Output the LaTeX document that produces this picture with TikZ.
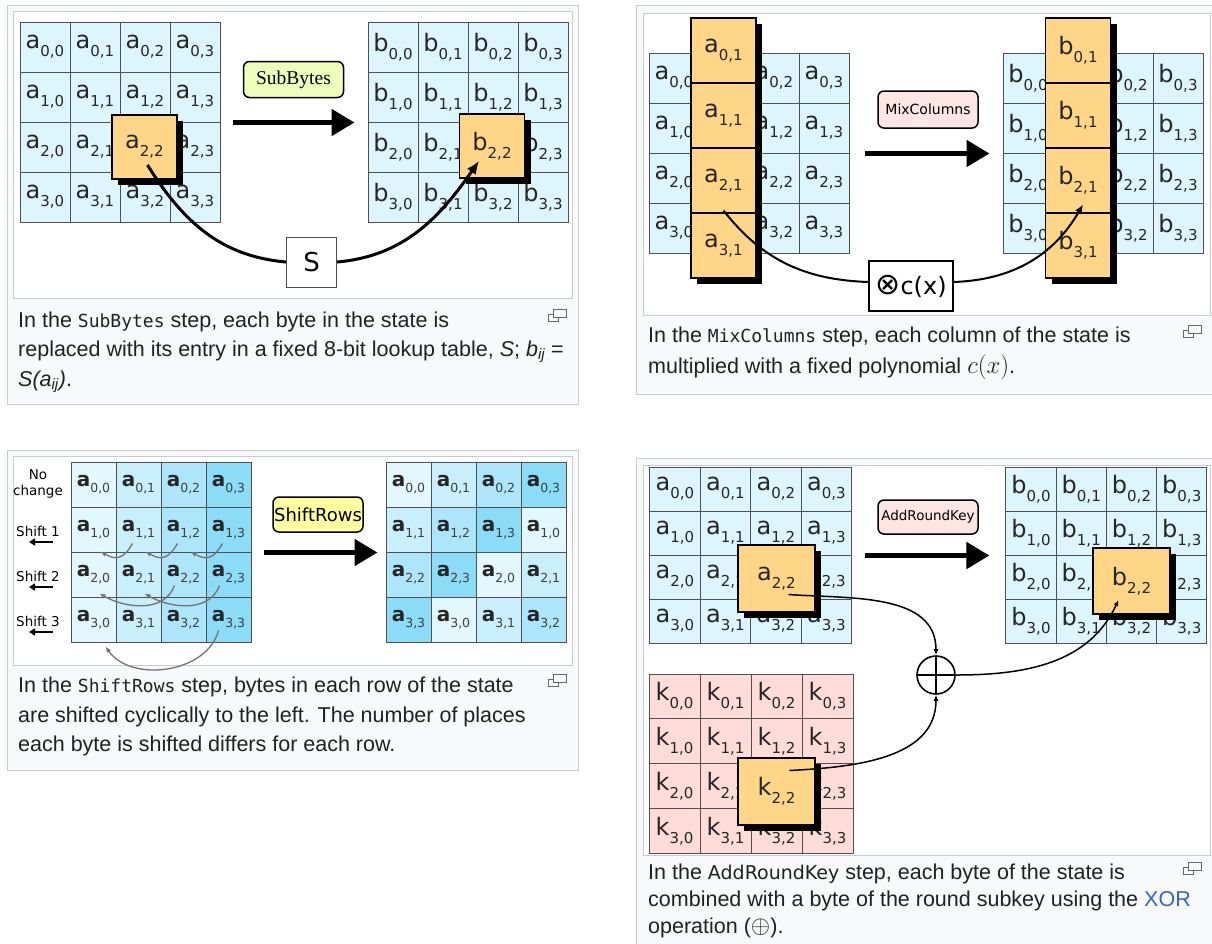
\documentclass[tikz,border=0pt]{standalone}
\usepackage{fontspec}
\setmainfont{Liberation Sans}
\newfontfamily\cellfont{DejaVu Sans}
\newfontfamily\codefont{DejaVu Sans Mono}
\newfontfamily\serifboxfont{Liberation Serif}
\usetikzlibrary{arrows.meta,shadows}

\definecolor{cellblue}{HTML}{DDF5FD}
\definecolor{bytegold}{HTML}{FFD587}
\definecolor{keypink}{HTML}{FFDCD8}
\definecolor{framegray}{HTML}{C8CCD1}
\definecolor{capbg}{HTML}{F8F9FA}
\definecolor{captext}{HTML}{202122}
\definecolor{gridline}{HTML}{505050}
\definecolor{subgray}{HTML}{404040}
\definecolor{linkblue}{HTML}{3366CC}
\definecolor{shift0}{HTML}{E3F7FE}
\definecolor{shift1}{HTML}{C9EFFC}
\definecolor{shift2}{HTML}{ADE6FA}
\definecolor{shift3}{HTML}{8BDCF7}
\definecolor{subgreen}{HTML}{EEFFBB}
\definecolor{shiftyellow}{HTML}{FFFF9E}
\definecolor{mixpink}{HTML}{FFE6E4}

%% byte labels: letter with a low subscript
\newcommand{\byte}[2]{#1\raisebox{-8pt}{\fontsize{15}{15}\selectfont #2}}
\newcommand{\sbyte}[2]{\textbf{#1}\raisebox{-6pt}{\fontsize{12.5}{12.5}\selectfont\color{subgray}#2}}

\begin{document}
\begin{tikzpicture}
[x=1pt,y=-1pt,
  cellDecorate/.style={draw=gridline,line width=1pt,inner sep=0pt,
    minimum width=50pt,minimum height=50pt,text=black!85,
    font=\cellfont\fontsize{24}{24}\selectfont},
  smallCell/.style={cellDecorate,minimum width=45pt,minimum height=45pt,
    font=\cellfont\fontsize{20}{20}\selectfont},
  byteDecorate/.style={cellDecorate,draw=black,line width=1.5pt,fill=bytegold,
    general shadow={fill=black,shadow xshift=6pt,shadow yshift=-6pt}},
  stepDecorate/.style={draw=black,line width=1.5pt,rounded corners=6pt,inner sep=0pt},
  stepArrow/.style={line width=5pt,-{Triangle[length=23pt,width=26pt]}},
  capText/.style={anchor=base west,inner sep=0pt,text=captext,
    font=\fontsize{21.5}{26}\selectfont},
  rowLabel/.style={inner sep=0pt,font=\cellfont\fontsize{13.5}{16}\selectfont},
  grayArc/.style={draw=black!55,line width=1.3pt,-{Latex[length=6pt,width=5pt]}},
  xorCurve/.style={line width=1.5pt,-{Latex[length=6pt,width=5pt]}}]

\fill[white] (0,0) rectangle (1212,943);
\useasboundingbox (0,0) rectangle (1212,943);

%% frames of the four thumbnails
\foreach \px/\py/\qx/\qy/\ix/\iy/\jx/\jy in {
  7/5/578/404/13/11/572/298,
  636/5/1213/394/643/13/1210/315,
  7/450/578/770/13/456/572/665,
  636/458/1213/946/643/465/1210/855}
{
  \draw[framegray,fill=capbg] (\px,\py) rectangle (\qx,\qy);
  \draw[framegray,fill=white] (\ix,\iy) rectangle (\jx,\jy);
}
%% enlarge icons
\foreach \ix/\iy in {548/309, 1183/325, 548/674, 1183/862}
{
  \draw[black!60,line width=1pt] (\ix,\iy+5) rectangle +(10,7);
  \draw[black!60,line width=1pt,fill=capbg] (\ix+5,\iy) rectangle +(13,8);
}

%% ---------- SubBytes ----------
\foreach \i in {0,...,3}
  \foreach \j in {0,...,3}
  {
    \node[cellDecorate,fill=cellblue] (sa-\i-\j) at (45+50*\j,47+50*\i) {\ifnum\i\j=22 \else\byte{a}{\i,\j}\fi};
    \node[cellDecorate,fill=cellblue] (sb-\i-\j) at (393+50*\j,47+50*\i) {\ifnum\i\j=22 \else\byte{b}{\i,\j}\fi};
  }
\node[byteDecorate,minimum width=65pt,minimum height=64pt] (sa-hi) at (144.5,147) {\byte{a}{2,2}};
\node[byteDecorate,minimum width=65pt,minimum height=64pt] (sb-hi) at (492,146) {\byte{b}{2,2}};
\node[stepDecorate,fill=subgreen,minimum width=100pt,minimum height=36pt,
  font=\serifboxfont\fontsize{19.5}{20}\selectfont] (subbytes) at (293.5,79.5) {SubBytes};
\draw[stepArrow] ([xshift=12pt]sa-1-3.south east) -- ([xshift=-13pt]sb-1-0.south west);
\node[draw=black!70,line width=1pt,fill=white,minimum size=50pt,
  font=\cellfont\fontsize{26}{26}\selectfont] (sbox) at (311.5,262) {S};
\draw[line width=3pt] ([shift={(3,18)}]sa-hi.center) to[out=-58,in=175] (sbox.west);
\draw[line width=3pt,-{Latex[length=13pt,width=11pt]}] (sbox.east)
  to[out=5,in=-125] ([shift={(-13,15)}]sb-hi.center);

\node[capText] at (18,327) {In the {\codefont\fontsize{18}{18}\selectfont SubBytes} step, each byte in the state is};
\node[capText] at (18,356) {replaced with its entry in a fixed 8-bit lookup table, \textit{S}; \textit{b\textsubscript{ij}} =};
\node[capText] at (18,386) {\textit{S(a\textsubscript{ij})}.};

%% ---------- MixColumns ----------
\foreach \i in {0,...,3}
  \foreach \j in {0,...,3}
  {
    \node[cellDecorate,fill=cellblue] (ma-\i-\j) at (674+50*\j,78+50*\i) {\ifnum\j=1 \else\byte{a}{\i,\j}\fi};
    \node[cellDecorate,fill=cellblue] (mb-\i-\j) at (1028+50*\j,78+50*\i) {\ifnum\j=1 \else\byte{b}{\i,\j}\fi};
  }
\foreach \i in {0,...,3}
{
  \node[byteDecorate,minimum width=65pt,minimum height=65pt] (mca-\i) at (723.5,50.5+65*\i) {\byte{a}{\i,1}};
  \node[byteDecorate,minimum width=65pt,minimum height=65pt] (mcb-\i) at (1078,50.5+65*\i) {\byte{b}{\i,1}};
}
\node[stepDecorate,fill=mixpink,minimum width=100pt,minimum height=37pt,
  font=\cellfont\fontsize{14}{14}\selectfont] (mixcolumns) at (928,109.5) {MixColumns};
\draw[stepArrow] ([xshift=15pt]ma-1-3.south east) -- ([xshift=-13pt]mb-1-0.south west);
\node[draw=black,line width=1.5pt,fill=white,minimum width=84pt,minimum height=50pt,inner sep=0pt,
  font=\cellfont\fontsize{24}{24}\selectfont] (cx) at (911,286) {{\fontsize{30}{30}\selectfont⊗}c(x)};
\draw[line width=2pt] ([shift={(0,30)}]mca-2.center) to[out=-52,in=178] ([yshift=4pt]cx.west);
\draw[line width=2pt,-{Latex[length=9pt,width=8pt]}] ([yshift=4pt]cx.east)
  to[out=2,in=-120] ([shift={(5,24)}]mcb-2.center);

\node[capText] at (648,342) {In the {\codefont\fontsize{18}{18}\selectfont MixColumns} step, each column of the state is};
\node[capText] at (648,373) {multiplied with a fixed polynomial {\fontsize{25}{25}\selectfont$c(x)$}.};

%% ---------- ShiftRows ----------
\foreach \i in {0,...,3}
  \foreach \j in {0,...,3}
  {
    \pgfmathtruncatemacro{\src}{mod(\i+\j,4)}
    \node[smallCell,fill=shift\j] (ra-\i-\j) at (93.5+45*\j,484.5+45*\i) {\sbyte{a}{\i,\j}};
    \node[smallCell,fill=shift\src] (rb-\i-\j) at (408.5+45*\j,484.5+45*\i) {\sbyte{a}{\i,\src}};
  }
\node[stepDecorate,fill=shiftyellow,minimum width=90pt,minimum height=35pt,
  font=\cellfont\fontsize{18}{18}\selectfont] (shiftrows) at (318,514.5) {ShiftRows};
\draw[stepArrow] ([xshift=12pt]ra-1-3.south east) -- ([xshift=-8pt]rb-1-0.south west);

\node[rowLabel,align=center] (nochange) at (38,484) {No\\change};
\foreach \i in {1,2,3}
{
  \node[rowLabel] (shift-\i) at (38,531+45*\i-45) {Shift \i};
  \draw[line width=2pt,-{Triangle[length=6pt,width=7pt]}]
    ([shift={(15,11)}]shift-\i.center) -- ([shift={(-9,11)}]shift-\i.center);
}
\foreach \j/\k in {0/1,1/2,2/3}
  \draw[grayArc] ([shift={(-6,14)}]ra-1-\k.center) to[out=-120,in=-30,looseness=1.4] ([shift={(7,22)}]ra-1-\j.center);
\foreach \j/\k in {0/2,1/3}
  \draw[grayArc] ([shift={(-9,11)}]ra-2-\k.center) to[out=-110,in=-30] ([shift={(6,19)}]ra-2-\j.center);
\draw[grayArc] ([shift={(-10,11)}]ra-3-3.center) to[out=-105,in=-55] ([shift={(12,27)}]ra-3-0.center);

\node[capText] at (18,692) {In the {\codefont\fontsize{18}{18}\selectfont ShiftRows} step, bytes in each row of the state};
\node[capText] at (18,722) {are shifted cyclically to the left. The number of places};
\node[capText] at (18,751) {each byte is shifted differs for each row.};

%% ---------- AddRoundKey ----------
\foreach \i in {0,...,3}
  \foreach \j in {0,...,3}
  {
    \node[cellDecorate,fill=cellblue,minimum width=50.5pt,minimum height=44pt] (ka-\i-\j) at (675+50.5*\j,489+44*\i) {\ifnum\i\j=22 \else\byte{a}{\i,\j}\fi};
    \node[cellDecorate,fill=cellblue,minimum width=50.25pt,minimum height=44pt] (kb-\i-\j) at (1031+50.25*\j,489+44*\i) {\ifnum\i\j=22 \else\byte{b}{\i,\j}\fi};
    \node[cellDecorate,fill=keypink,minimum width=51pt,minimum height=44.75pt] (kk-\i-\j) at (674.5+51*\j,696.5+44.75*\i) {\ifnum\i\j=22 \else\byte{k}{\i,\j}\fi};
  }
\node[byteDecorate,minimum width=77pt,minimum height=67pt] (ka-hi) at (776.5,578.5) {\byte{a}{2,2}};
\node[byteDecorate,minimum width=77pt,minimum height=66pt] (kb-hi) at (1131.5,581) {\byte{b}{2,2}};
\node[byteDecorate,minimum width=77pt,minimum height=67pt] (kk-hi) at (776.5,791.5) {\byte{k}{2,2}};
\node[stepDecorate,fill=mixpink,minimum width=100pt,minimum height=34pt,
  font=\cellfont\fontsize{13.5}{14}\selectfont] (addroundkey) at (928,517) {AddRoundKey};
\draw[stepArrow] ([xshift=13pt]ka-1-3.south east) -- ([xshift=-16pt]kb-1-0.south west);
\node[circle,draw=black,line width=1.6pt,minimum size=38pt,inner sep=0pt,
  path picture={\draw[line width=1.6pt] (path picture bounding box.north) -- (path picture bounding box.south)
    (path picture bounding box.west) -- (path picture bounding box.east);}] (xor) at (936,675) {};
\draw[xorCurve] ([shift={(12,16)}]ka-hi.center) to[out=-4,in=90] (xor.north);
\draw[xorCurve] ([shift={(13,-21)}]kk-hi.center) to[out=3,in=-90] (xor.south);
\draw[xorCurve] (xor.east) to[out=0,in=-115] ([shift={(-13,19)}]kb-hi.center);

\node[capText] at (648,879) {In the {\cellfont\fontsize{19}{19}\selectfont AddRoundKey} step, each byte of the state is};
\node[capText] at (648,906) {combined with a byte of the round subkey using the \textcolor{linkblue}{XOR}};
\node[capText] at (648,933) {operation ({\fontsize{26}{26}\selectfont$\oplus$}).};
\end{tikzpicture}
\end{document}
